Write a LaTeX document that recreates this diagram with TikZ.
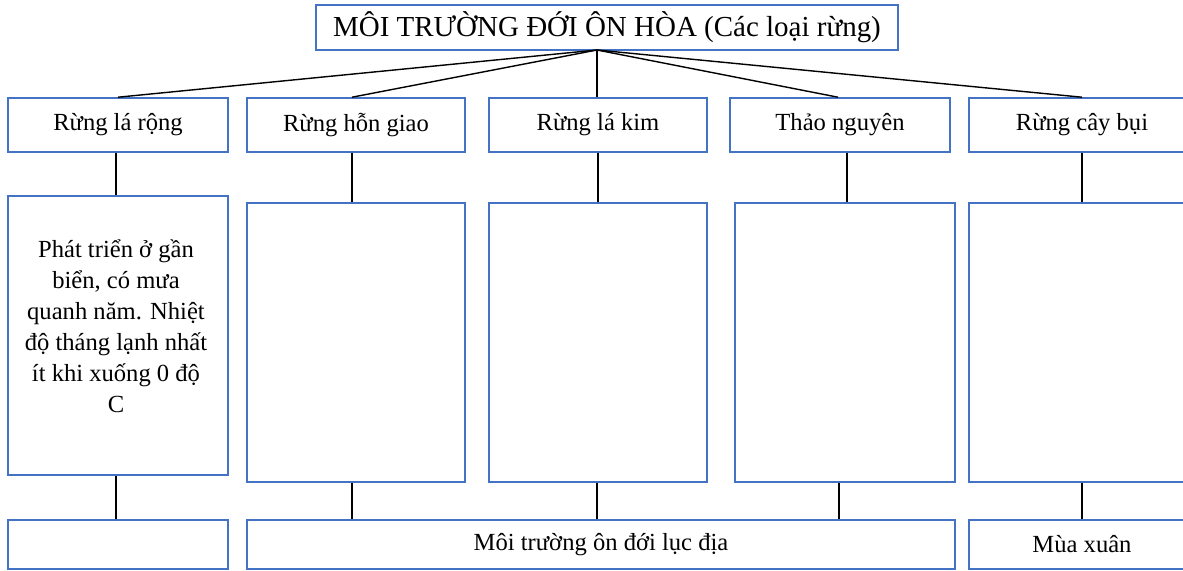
\documentclass[tikz,border=0pt]{standalone}
\usepackage{fontspec}
\setmainfont{Liberation Serif}
\usetikzlibrary{positioning}
\definecolor{boxblue}{RGB}{68,114,196}

\begin{document}
\begin{tikzpicture}[x=0.02cm,y=-0.02cm,
	box/.style={draw=boxblue, line width=0.9pt, minimum width=4.4cm, minimum height=1.08cm, inner sep=0pt, font=\fontsize{14}{17.6}\selectfont},
	tallbox/.style={box, minimum height=5.58cm},
	lowbox/.style={box, minimum height=0.98cm},
	link/.style={draw=black, line width=0.8pt}]
	\useasboundingbox (0,0) rectangle (1183,571);
	% title
	\node [box, minimum width=11.64cm, minimum height=0.9cm, font=\fontsize{16.5}{20}\selectfont] (top) at (607,27.5) {MÔI TRƯỜNG ĐỚI ÔN HÒA (Các loại rừng)};
	\coordinate (fork) at (597,50);
	% forest types
	\node [box] (r1) at (118,125) {Rừng lá rộng};
	\node [box, minimum width=4.36cm] (r2) at (356,125) {Rừng hỗn giao};
	\node [box, minimum width=4.36cm] (r3) at (598,125) {Rừng lá kim};
	\node [box] (r4) at (840,125) {Thảo nguyên};
	\node [box, minimum width=4.52cm] (r5) at (1082,125) {Rừng cây bụi};
	% descriptions
	\node [tallbox] (b1) at (118,335.5) {};
	\node [align=center, font=\fontsize{14}{17.6}\selectfont] (b1txt) at (116,326) {Phát triển ở gần\\biển, có mưa\\quanh năm. Nhiệt\\độ tháng lạnh nhất\\ít khi xuống 0 độ\\C};
	\node [tallbox, minimum width=4.36cm] (b2) at (356,342.5) {};
	\node [tallbox, minimum width=4.36cm] (b3) at (598,342.5) {};
	\node [tallbox] (b4) at (845,342.5) {};
	\node [tallbox, minimum width=4.52cm] (b5) at (1082,342.5) {};
	% climates
	\node [lowbox] (c1) at (118,544.5) {};
	\node [lowbox, minimum width=14.16cm] (c2) at (601,544.5) {Môi trường ôn đới lục địa};
	\node [lowbox, minimum width=4.52cm] (c3) at (1082,544.5) {Mùa xuân};
	% links
	\path [link] (fork) -- (r1.north);
	\path [link] (fork) -- ([xshift=-0.08cm]r2.north);
	\path [link] (fork) -- (fork |- r3.north);
	\path [link] (fork) -- ([xshift=-0.04cm]r4.north);
	\path [link] (fork) -- (r5.north);
	\path [link] ([xshift=-0.04cm]r1.south) -- ([xshift=-0.04cm]r1.south |- b1.north);
	\path [link] ([xshift=-0.08cm]r2.south) -- ([xshift=-0.08cm]r2.south |- b2.north);
	\path [link] (r3.south) -- (r3.south |- b3.north);
	\path [link] ([xshift=0.14cm]r4.south) -- ([xshift=0.14cm]r4.south |- b4.north);
	\path [link] (r5.south) -- (r5.south |- b5.north);
	\path [link] ([xshift=-0.04cm]b1.south) -- ([xshift=-0.04cm]b1.south |- c1.north);
	\path [link] ([xshift=-0.08cm]b2.south) -- ([xshift=-0.08cm]b2.south |- c2.north);
	\path [link] ([xshift=-0.02cm]b3.south) -- ([xshift=-0.02cm]b3.south |- c2.north);
	\path [link] ([xshift=-0.12cm]b4.south) -- ([xshift=-0.12cm]b4.south |- c2.north);
	\path [link] (b5.south) -- (b5.south |- c3.north);
\end{tikzpicture}
\end{document}
